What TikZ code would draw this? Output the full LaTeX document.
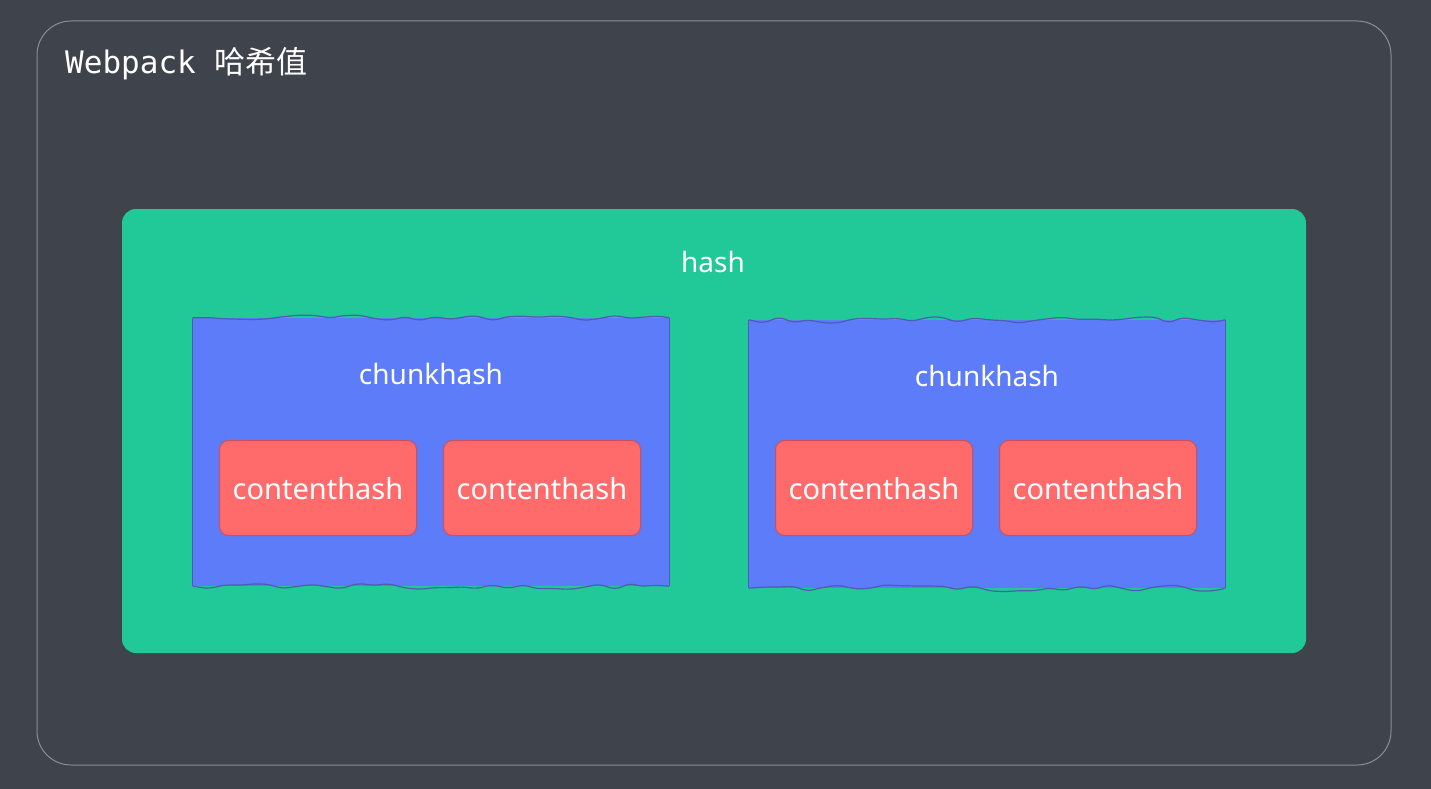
\documentclass[tikz,border=0pt]{standalone}
\usepackage{fontspec}
\setmainfont{Noto Sans}
\newfontfamily\cjk{Noto Sans CJK SC}
\newfontfamily\monof{DejaVu Sans Mono}
\usetikzlibrary{decorations.pathmorphing}
\definecolor{bgc}{HTML}{3F434C}
\definecolor{framec}{HTML}{8C8E94}
\definecolor{greenc}{HTML}{20C997}
\definecolor{bluec}{HTML}{5C7CFA}
\definecolor{blueline}{HTML}{4F5CB0}
\definecolor{redc}{HTML}{FF6B6B}
\definecolor{redline}{HTML}{C9505C}
\begin{document}
\begin{tikzpicture}[x=1pt,y=-1pt,
  framebox/.style={draw=framec, line width=1pt, rounded corners=34pt, minimum width=1354pt, minimum height=744pt},
  hashbox/.style={fill=greenc, rounded corners=14pt, minimum width=1184pt, minimum height=444pt},
  chunkbox/.style={fill=bluec, minimum width=476pt, minimum height=268pt},
  chunkside/.style={draw=blueline, line width=1pt},
  chunkwave/.style={draw=blueline, line width=1.2pt, decorate,
    decoration={random steps, segment length=15pt, amplitude=3.5pt}, rounded corners=6pt},
  contentbox/.style={fill=redc, draw=redline, line width=1pt, rounded corners=9pt, minimum width=197pt, minimum height=95pt},
  lbl/.style={text=white, font=\fontsize{28}{32}\selectfont},
  clbl/.style={text=white, font=\fontsize{29}{34}\selectfont}]
\pgfmathsetseed{11}
\fill[bgc] (0,0) rectangle (1431,789);
\useasboundingbox (0,0) rectangle (1431,789);
\node[framebox] (frame) at (714,393) {};
\node[anchor=base west, text=white, inner sep=0pt, font=\fontsize{31}{36}\selectfont] (title) at (65,74) {\monof Webpack \cjk 哈希值};
\node[hashbox] (hash) at (714,431) {};
\node[lbl] (hashlbl) at (713,262) {hash};
\foreach \n/\x/\y in {chunkA/431/452, chunkB/987/454} {
  \node[chunkbox] (\n) at (\x,\y) {};
  \draw[chunkside] (\n.north west) -- (\n.south west);
  \draw[chunkside] (\n.north east) -- (\n.south east);
  \draw[chunkwave] (\n.north west) -- (\n.north east);
  \draw[chunkwave] (\n.south west) -- (\n.south east);
}
\node[lbl] (chunkAlbl) at (431,374) {chunkhash};
\node[lbl] (chunkBlbl) at (987,376) {chunkhash};
\node[contentbox] (cA1) at (318,488) {};
\node[contentbox] (cA2) at (542,488) {};
\node[contentbox] (cB1) at (874,488) {};
\node[contentbox] (cB2) at (1098,488) {};
\node[clbl] (cA1l) at (318,489) {contenthash};
\node[clbl] (cA2l) at (542,489) {contenthash};
\node[clbl] (cB1l) at (874,489) {contenthash};
\node[clbl] (cB2l) at (1098,489) {contenthash};
\end{tikzpicture}
\end{document}
